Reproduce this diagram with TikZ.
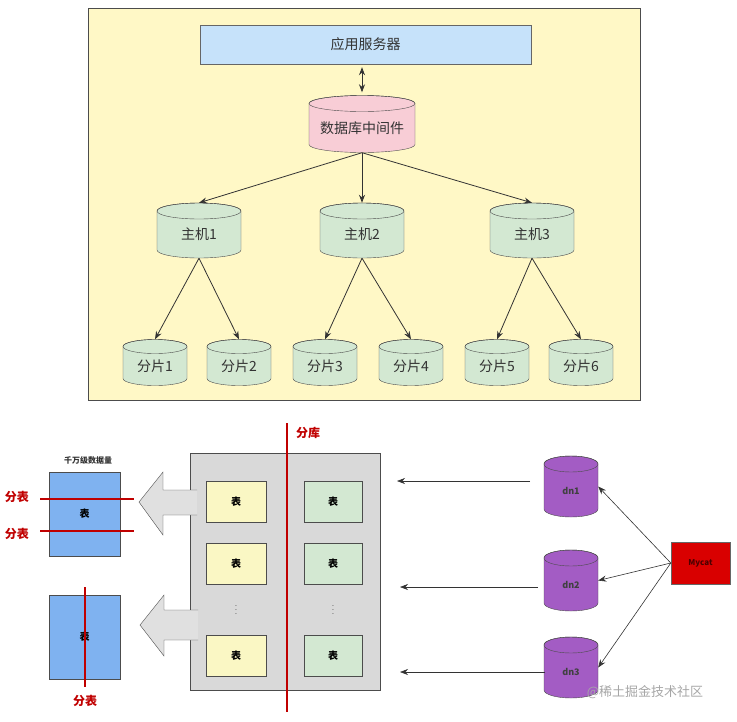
\documentclass[tikz,border=0pt]{standalone}
\usepackage{fontspec}
\setmainfont{Noto Sans CJK SC}
\usetikzlibrary{arrows.meta}
\definecolor{panel}{HTML}{FFF8C6}
\definecolor{appblue}{HTML}{C6E2FA}
\definecolor{midpink}{HTML}{F8CDD6}
\definecolor{dbgreen}{HTML}{D3E8D2}
\definecolor{tblyel}{HTML}{FAF7C4}
\definecolor{tblblue}{HTML}{7FB2F0}
\definecolor{dnpurp}{HTML}{A35CC4}
\definecolor{cutred}{HTML}{C00000}
% cylinder: name, x, y, width, height, ellipse radius, fill, text style, text
\newcommand\dbcyl[9]{%
  \node[minimum width=#4, minimum height=#5, inner sep=0pt] (#1) at (#2,#3) {};
  \draw[fill=#7, draw=black!70] (#2-#4/2,#3-#5/2+#6) -- (#2-#4/2,#3+#5/2-#6)
    arc[start angle=180, end angle=0, x radius=#4/2, y radius=#6]
    -- (#2+#4/2,#3-#5/2+#6) arc[start angle=0, end angle=-180, x radius=#4/2, y radius=#6] -- cycle;
  \draw[draw=black!70] (#2,#3-#5/2+#6) ellipse[x radius=#4/2, y radius=#6];
  \node[#8] (#1-t) at (#2,#3+#6/2) {#9};
}
\tikzset{
  dbtxt/.style={font=\fontsize{14}{16}\selectfont, text=black!80, inner sep=1pt},
  tbl/.style={draw=black!70, minimum width=60, minimum height=41, font=\fontsize{10}{12}\selectfont\bfseries},
  arr/.style={-{Stealth[length=8pt,width=6pt]}, draw=black!80, line width=0.8pt},
  cut/.style={draw=cutred, line width=2pt},
  cutlbl/.style={text=cutred, font=\fontsize{12}{14}\selectfont\bfseries}
}
\begin{document}
\begin{tikzpicture}[x=1pt,y=-1pt]
\useasboundingbox (0,0) rectangle (737,721);
% upper panel
\draw[fill=panel, draw=black!70] (88,8) rectangle (640,400);
\node[draw=black!60, fill=appblue, minimum width=331, minimum height=39, font=\fontsize{14}{16}\selectfont, text=black!80] (app) at (365.5,44.5) {应用服务器};
\dbcyl{mid}{362}{124}{106}{57}{8}{midpink}{dbtxt}{数据库中间件}
\draw[{Stealth[length=8pt,width=6pt]}-{Stealth[length=8pt,width=6pt]}, draw=black!80, line width=0.8pt] ([yshift=-3pt]mid.north |- app.south) -- ([yshift=3pt]mid.north);
\foreach \i/\x in {1/199,2/362,3/532}{
  \dbcyl{host\i}{\x}{230.5}{84}{55}{8}{dbgreen}{dbtxt}{主机\i}
  \draw[arr] (mid.south) -- (host\i.north);
}
\foreach \i/\x/\h in {1/155/1,2/239/1,3/325/2,4/411/2,5/497/3,6/581/3}{
  \dbcyl{shard\i}{\x}{362.5}{64}{46}{7}{dbgreen}{dbtxt}{分片\i}
  \draw[arr] (host\h.south) -- (shard\i.north);
}
% lower part
\draw[fill=black!15, draw=black!70] (190,453) rectangle (380,690);
\foreach \r/\y in {1/501.5,2/563.5,3/656}{
  \node[tbl, fill=tblyel] (ya\r) at (236,\y) {表};
  \node[tbl, fill=dbgreen, minimum width=58] (gb\r) at (333,\y) {表};
}
\node[font=\fontsize{7}{7}\selectfont, inner sep=0pt] (dots1) at (236,607) {$\vdots$};
\node[font=\fontsize{7}{7}\selectfont, inner sep=0pt] (dots2) at (333,607) {$\vdots$};
\draw[cut] (287,423) -- (287,712);
\node[cutlbl] at (308,433) {分库};
% split arrows
\draw[fill=black!12, draw=black!70] (197,490) -- (163,490) -- (163,472) -- (139,502) -- (163,535) -- (163,515) -- (197,515);
\draw[fill=black!12, draw=black!70] (198,610) -- (164,610) -- (164,595) -- (140,625) -- (164,656) -- (164,640) -- (198,640);
% big tables
\node[font=\fontsize{8}{10}\selectfont\bfseries, text=black!80] at (88,460) {千万级数据量};
\node[tbl, fill=tblblue, minimum width=71, minimum height=84] (big1) at (84.5,514) {表};
\node[tbl, fill=tblblue, minimum width=71, minimum height=84] (big2) at (84.5,637) {表};
\draw[cut] (40,499) -- (134,499);
\draw[cut] (40,531) -- (134,531);
\draw[cut] (85,587) -- (85,687);
\node[cutlbl] at (17,497) {分表};
\node[cutlbl] at (17,534) {分表};
\node[cutlbl] at (85,701) {分表};
% data nodes
\foreach \i/\y in {1/486.5,2/580.5,3/667.5}{
  \dbcyl{dn\i}{571}{\y}{54}{61}{8}{dnpurp}{font=\fontsize{9}{10}\selectfont\bfseries, text=black!75}{dn\i}
}
\node[draw=black!60, fill=red!85!black, minimum width=59, minimum height=42, font=\fontsize{8}{10}\selectfont\bfseries, text=black!70!red] (mycat) at (700.5,563) {Mycat};
\coordinate (e1) at (530,481); \coordinate (f1) at (397,481);
\coordinate (e2) at (538,587); \coordinate (f2) at (400,587);
\coordinate (e3) at (545,672); \coordinate (f3) at (400,672);
\foreach \i in {1,2,3}{
  \draw[arr, line width=0.6pt] (e\i) -- (f\i);
  \draw[arr, line width=0.6pt] (mycat.west) -- (dn\i.east);
}
\node[text=black!35, font=\fontsize{13}{15}\selectfont] at (645,692) {@稀土掘金技术社区};
\end{tikzpicture}
\end{document}
